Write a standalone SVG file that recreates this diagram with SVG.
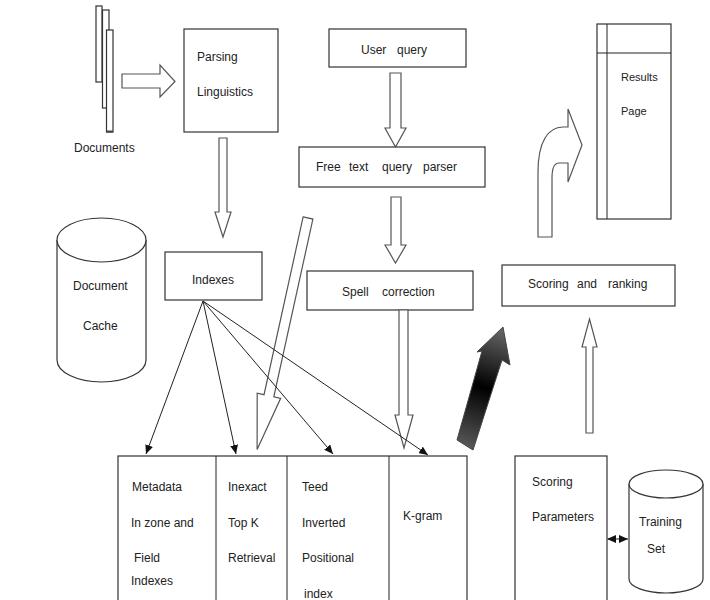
<svg xmlns="http://www.w3.org/2000/svg" width="710" height="600" viewBox="0 0 710 600">
<style>
.box{fill:#fff;stroke:#333;stroke-width:1.2}
.blk{fill:#fff;stroke:#555;stroke-width:1.2;stroke-linejoin:miter}
.ln{fill:none;stroke:#222;stroke-width:1}
text{font-family:"Liberation Sans",Arial,sans-serif;font-size:12px;fill:#222}
.sm{font-size:11px}
</style>
<defs>
<marker id="ah" markerWidth="10" markerHeight="8" refX="9" refY="4" orient="auto" markerUnits="userSpaceOnUse">
<path d="M0,0 L9,4 L0,8 Z" fill="#111"/>
</marker>
<marker id="ahs" markerWidth="10" markerHeight="8" refX="1" refY="4" orient="auto" markerUnits="userSpaceOnUse">
<path d="M9,0 L0,4 L9,8 Z" fill="#111"/>
</marker>
<linearGradient id="dg" gradientUnits="userSpaceOnUse" x1="503" y1="327" x2="465" y2="448">
<stop offset="0" stop-color="#6a6a6a"/>
<stop offset="0.5" stop-color="#000"/>
<stop offset="1" stop-color="#5a5a5a"/>
</linearGradient>
</defs>
<rect width="710" height="600" fill="#fff"/>

<g id="documents">
<rect x="96" y="6" width="6" height="76" class="box"/>
<rect x="102.5" y="10" width="6.5" height="98" class="box"/>
<rect x="106.5" y="30" width="6.5" height="102" class="box"/>
<line x1="106.5" y1="131.5" x2="113" y2="131.5" stroke="#444" stroke-width="2"/>
<text x="74" y="152">Documents</text>
</g>

<g id="parsing">
<rect x="184" y="29" width="94" height="103" class="box"/>
<text x="197" y="61">Parsing</text>
<text x="197" y="96">Linguistics</text>
</g>

<g id="user-query">
<rect x="329" y="29" width="137" height="38" class="box"/>
<text y="54"><tspan x="361">User</tspan><tspan x="397">query</tspan></text>
</g>

<g id="free-text-parser">
<rect x="299" y="147" width="186" height="40" class="box"/>
<text y="171"><tspan x="316">Free</tspan><tspan x="349">text</tspan><tspan x="382">query</tspan><tspan x="423">parser</tspan></text>
</g>

<g id="results-page">
<rect x="597" y="24" width="74" height="195" class="box"/>
<line x1="607" y1="24" x2="607" y2="219" class="ln" stroke="#333"/>
<line x1="597" y1="53" x2="671" y2="53" class="ln" stroke="#333"/>
<text x="621" y="81" class="sm">Results</text>
<text x="621" y="115" class="sm">Page</text>
</g>

<g id="document-cache">
<path d="M57,240 L57,360 A44.5,22 0 0 0 146,360 L146,240" class="box"/>
<ellipse cx="101.5" cy="240" rx="44.5" ry="22" class="box"/>
<text x="73" y="290">Document</text>
<text x="83" y="330">Cache</text>
</g>

<g id="indexes">
<rect x="165" y="252" width="97" height="48" class="box"/>
<text x="192" y="284">Indexes</text>
</g>

<g id="spell-correction">
<rect x="307" y="271" width="166" height="39" class="box"/>
<text y="296"><tspan x="342">Spell</tspan><tspan x="382">correction</tspan></text>
</g>

<g id="scoring-ranking">
<rect x="502" y="265" width="173" height="41" class="box"/>
<text y="288"><tspan x="528">Scoring</tspan><tspan x="577">and</tspan><tspan x="608">ranking</tspan></text>
</g>

<g id="index-types">
<rect x="118" y="456" width="349" height="160" class="box"/>
<line x1="216" y1="456" x2="216" y2="600" class="ln" stroke="#333"/>
<line x1="287" y1="456" x2="287" y2="600" class="ln" stroke="#333"/>
<line x1="389" y1="456" x2="389" y2="600" class="ln" stroke="#333"/>
<text x="132" y="491">Metadata</text>
<text x="131" y="527">In zone and</text>
<text x="134" y="562">Field</text>
<text x="131" y="585">Indexes</text>
<text x="228" y="491">Inexact</text>
<text x="228" y="527">Top K</text>
<text x="228" y="562">Retrieval</text>
<text x="302" y="491">Teed</text>
<text x="302" y="527">Inverted</text>
<text x="302" y="562">Positional</text>
<text x="304" y="598">index</text>
<text x="403" y="520">K-gram</text>
</g>

<g id="scoring-parameters">
<rect x="515" y="456" width="92" height="160" class="box"/>
<text x="532" y="486">Scoring</text>
<text x="532" y="521">Parameters</text>
</g>

<g id="training-set">
<path d="M629,484 L629,579 A37,14 0 0 0 703,579 L703,484" class="box"/>
<ellipse cx="666" cy="484" rx="37" ry="14" class="box"/>
<text x="639" y="526">Training</text>
<text x="647" y="553">Set</text>
</g>

<g id="connectors">
<polygon class="blk" points="122,74 160,74 160,65 175,81.5 160,97 160,88 122,88"/>
<polygon class="blk" points="219,138 227,138 227,212 231,212 223,237 215,212 219,212"/>
<polygon class="blk" points="390,73 401,73 401,128 406,128 395.5,147 385,128 390,128"/>
<polygon class="blk" points="391,197 401,197 401,245 406,245 395.5,263 385,245 391,245"/>
<polygon class="blk" points="399,310 408,310 408,415 413,415 404,448 395,415 399,415"/>
<polygon class="blk" transform="translate(308,218) rotate(12.4)" points="-5,0 5,0 5,182 12,182 0,237 -12,182 -5,182"/>
<polygon class="blk" points="586,433 593,433 593,347 597,347 589.5,319 582,347 586,347"/>
<path class="blk" d="M538,237 L538,172 C538,142 548,127 563,127 L568,127 L568,109 L582,145 L568,182 L568,163 L559,163 C555,163 552,168 552,178 L552,237 Z"/>
<polygon points="457,440 482,351 477,352 503,327 510,365 502,360 473,450" fill="url(#dg)" stroke="#444" stroke-width="1"/>
<line class="ln" x1="203" y1="301" x2="146" y2="454" marker-end="url(#ah)"/>
<line class="ln" x1="203" y1="301" x2="236" y2="454" marker-end="url(#ah)"/>
<line class="ln" x1="203" y1="301" x2="333" y2="454" marker-end="url(#ah)"/>
<line class="ln" x1="203" y1="301" x2="428" y2="455" marker-end="url(#ah)"/>
<line class="ln" x1="608" y1="539" x2="628" y2="539" marker-start="url(#ahs)" marker-end="url(#ah)"/>
</g>
</svg>
